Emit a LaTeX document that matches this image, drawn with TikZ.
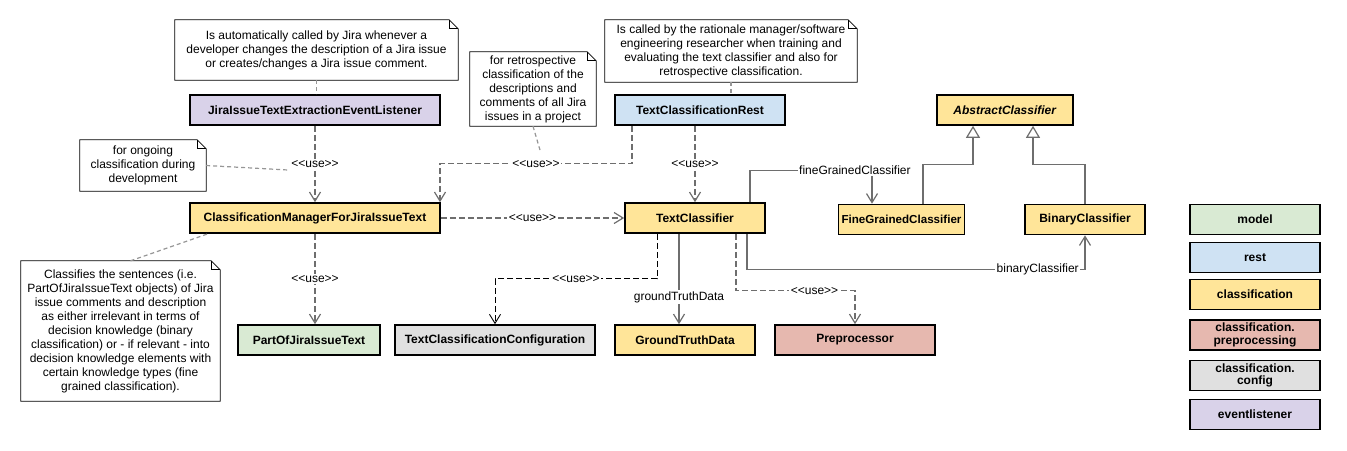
\documentclass[tikz,border=0pt]{standalone}
\usepackage{fontspec}
\setmainfont{Liberation Sans}
\usetikzlibrary{positioning, arrows.meta, calc}
\definecolor{modelgreen}{RGB}{217,234,211}
\definecolor{restblue}{RGB}{207,226,243}
\definecolor{classyellow}{RGB}{255,229,153}
\definecolor{preppink}{RGB}{230,184,175}
\definecolor{configgray}{RGB}{224,224,224}
\definecolor{eventpurple}{RGB}{217,210,233}
\definecolor{linegray}{RGB}{110,110,110}
\definecolor{notegray}{RGB}{150,150,150}
\newcommand{\uselabel}{<{}<use>{}>}
\tikzset{
cls/.style={
    draw,
    line width=1.6pt,
    align=center,
    inner sep=2pt,
    minimum height=30pt,
    font=\bfseries\fontsize{12}{13}\selectfont
},
note/.style={
    align=center,
    inner sep=2pt,
    font=\fontsize{12}{14}\selectfont,
    append after command={\pgfextra{\let\notenode\tikzlastnode
        \draw[line width=0.8pt] (\notenode.north west) -- ([xshift=-9pt]\notenode.north east)
            -- ([yshift=-9pt]\notenode.north east) -- (\notenode.south east)
            -- (\notenode.south west) -- cycle;
        \draw[line width=0.8pt] ([xshift=-9pt]\notenode.north east) |- ([yshift=-9pt]\notenode.north east);}}
},
use/.style={
    draw=linegray,
    line width=1.2pt,
    dash pattern=on 6pt off 3pt,
    -{Straight Barb[length=9pt, width=11pt]}
},
assoc/.style={
    draw=linegray,
    line width=1.2pt,
    -{Straight Barb[length=9pt, width=11pt]}
},
gen/.style={
    draw=linegray,
    line width=1.2pt,
    -{Triangle[open, fill=white, length=12pt, width=14pt]}
},
noteline/.style={
    draw=notegray,
    line width=1.2pt,
    dash pattern=on 4pt off 3pt
},
lbl/.style={
    fill=white,
    inner sep=1.5pt,
    font=\fontsize{12}{14}\selectfont
}
}

\begin{document}
\begin{tikzpicture}[x=1pt, y=-1pt]
\useasboundingbox (0,0) rectangle (1347,450);

% NOTES
\node[note, minimum width=283pt, minimum height=60pt] (noteauto) at (316.5,50) {Is automatically called by Jira whenever a\\developer changes the description of a Jira issue\\or creates/changes a Jira issue comment.};
\node[note, minimum width=126pt, minimum height=74pt] (noteretro) at (533,89) {for retrospective\\classification of the\\descriptions and\\comments of all Jira\\issues in a project};
\node[note, minimum width=252pt, minimum height=62pt] (noterest) at (731,51) {Is called by the rationale manager/software\\engineering researcher when training and\\evaluating the text classifier and also for\\retrospective classification.};
\node[note, minimum width=126pt, minimum height=51pt] (noteongoing) at (143,165.5) {for ongoing\\classification during\\development};
\node[note, minimum width=199pt, minimum height=140pt] (noteclass) at (120.5,331) {Classifies the sentences (i.e.\\PartOfJiraIssueText objects) of Jira\\issue comments and description\\as either irrelevant in terms of\\decision knowledge (binary\\classification) or - if relevant - into\\decision knowledge elements with\\certain knowledge types (fine\\grained classification).};

% TOP ROW
\node[cls, fill=eventpurple, minimum width=250pt] (listener) at (315,110) {JiraIssueTextExtractionEventListener};
\node[cls, fill=restblue, minimum width=170pt] (rest) at (700,110) {TextClassificationRest};
\node[cls, fill=classyellow, minimum width=136pt] (abstract) at (1005,110) {\textit{AbstractClassifier}};

% MIDDLE ROW
\node[cls, fill=classyellow, minimum width=115pt, inner xsep=3pt, font=\bfseries\fontsize{11.6}{13}\selectfont] (fine) at (901.5,219.5) {FineGrainedClassifier};
\node[cls, fill=classyellow, minimum width=250pt] (manager) at (315,218) {ClassificationManagerForJiraIssueText};
\node[cls, fill=classyellow, minimum width=140pt] (classifier) at (695,218) {TextClassifier};
\node[cls, fill=classyellow, minimum width=120pt] (binary) at (1085,219.5) {BinaryClassifier};

% BOTTOM ROW
\node[cls, fill=modelgreen, minimum width=142pt] (part) at (309,340) {PartOfJiraIssueText};
\node[cls, fill=configgray, minimum width=200pt] (config) at (495,340) {TextClassificationConfiguration};
\node[cls, fill=classyellow, minimum width=140pt] (truth) at (685,340) {GroundTruthData};
\node[cls, fill=preppink, minimum width=160pt] (prep) at (855,340) {Preprocessor};

% LEGEND
\node[cls, fill=modelgreen, minimum width=130pt] (lgmodel) at (1255,219.5) {model};
\node[cls, fill=restblue, minimum width=130pt] (lgrest) at (1255,257.5) {rest};
\node[cls, fill=classyellow, minimum width=130pt] (lgclass) at (1255,294.5) {classification};
\node[cls, fill=preppink, minimum width=130pt, font=\bfseries\fontsize{12}{12.5}\selectfont] (lgprep) at (1255,335) {classification.\\preprocessing};
\node[cls, fill=configgray, minimum width=130pt, font=\bfseries\fontsize{12}{12.5}\selectfont] (lgconfig) at (1255,375.5) {classification.\\config};
\node[cls, fill=eventpurple, minimum width=130pt] (lgevent) at (1255,414.5) {eventlistener};

% NOTE LINKS
\coordinate (retroend) at (540,150);
\coordinate (ongoingend) at (288,170);
\draw[noteline] (noteauto.south) -- (noteauto.south |- listener.north);
\draw[noteline] (noterest.south) -- (noterest.south |- rest.north);
\draw[noteline] (noteretro.south) -- (retroend);
\draw[noteline] (noteongoing.east) -- (ongoingend);
\draw[noteline] ([xshift=10pt]noteclass.north) -- ([xshift=-107pt]manager.south);

% USE DEPENDENCIES
\draw[use] (listener) -- node[lbl] (uselistener) {\uselabel} (manager);
\draw[use] ([xshift=-68pt]rest.south) -- ++(0,38) -| node[lbl, pos=0.25] (userestmgr) {\uselabel} ([xshift=125pt]manager.north);
\draw[use] (classifier.north |- rest.south) -- node[lbl] (userestcls) {\uselabel} (classifier.north);
\draw[use] (manager) -- node[lbl] (usemgrcls) {\uselabel} (classifier);
\draw[use] (manager.south) -- node[lbl] (usepart) {\uselabel} (manager.south |- part.north);
\draw[use, draw=black, line width=0.9pt] ([xshift=-38pt]classifier.south) -- ++(0,45) -| node[lbl, pos=0.25] (useconfig) {\uselabel} (config.north);
\draw[use] ([xshift=41pt]classifier.south) -- ++(0,57) -| node[lbl, pos=0.33] (useprep) {\uselabel} (prep.north);

% ASSOCIATIONS
\draw[assoc] ([xshift=-16pt]classifier.south) -- node[lbl, pos=0.7] (truthlbl) {groundTruthData} ([xshift=-16pt]classifier.south |- truth.north);
\draw[assoc] ([xshift=55pt]classifier.north) -- ++(0,-32) -| node[lbl, pos=0.43] (finelbl) {fineGrainedClassifier} ([xshift=-29.5pt]fine.north);
\draw[assoc] ([xshift=52pt]classifier.south) -- ++(0,36) -| node[lbl, pos=0.43] (binarylbl) {binaryClassifier} (binary.south);

% GENERALISATION
\draw[gen] ([xshift=21.5pt]fine.north) -- ++(0,-39) -| ([xshift=-32pt]abstract.south);
\draw[gen] (binary.north) -- ++(0,-39) -| ([xshift=28pt]abstract.south);

\end{tikzpicture}
\end{document}
